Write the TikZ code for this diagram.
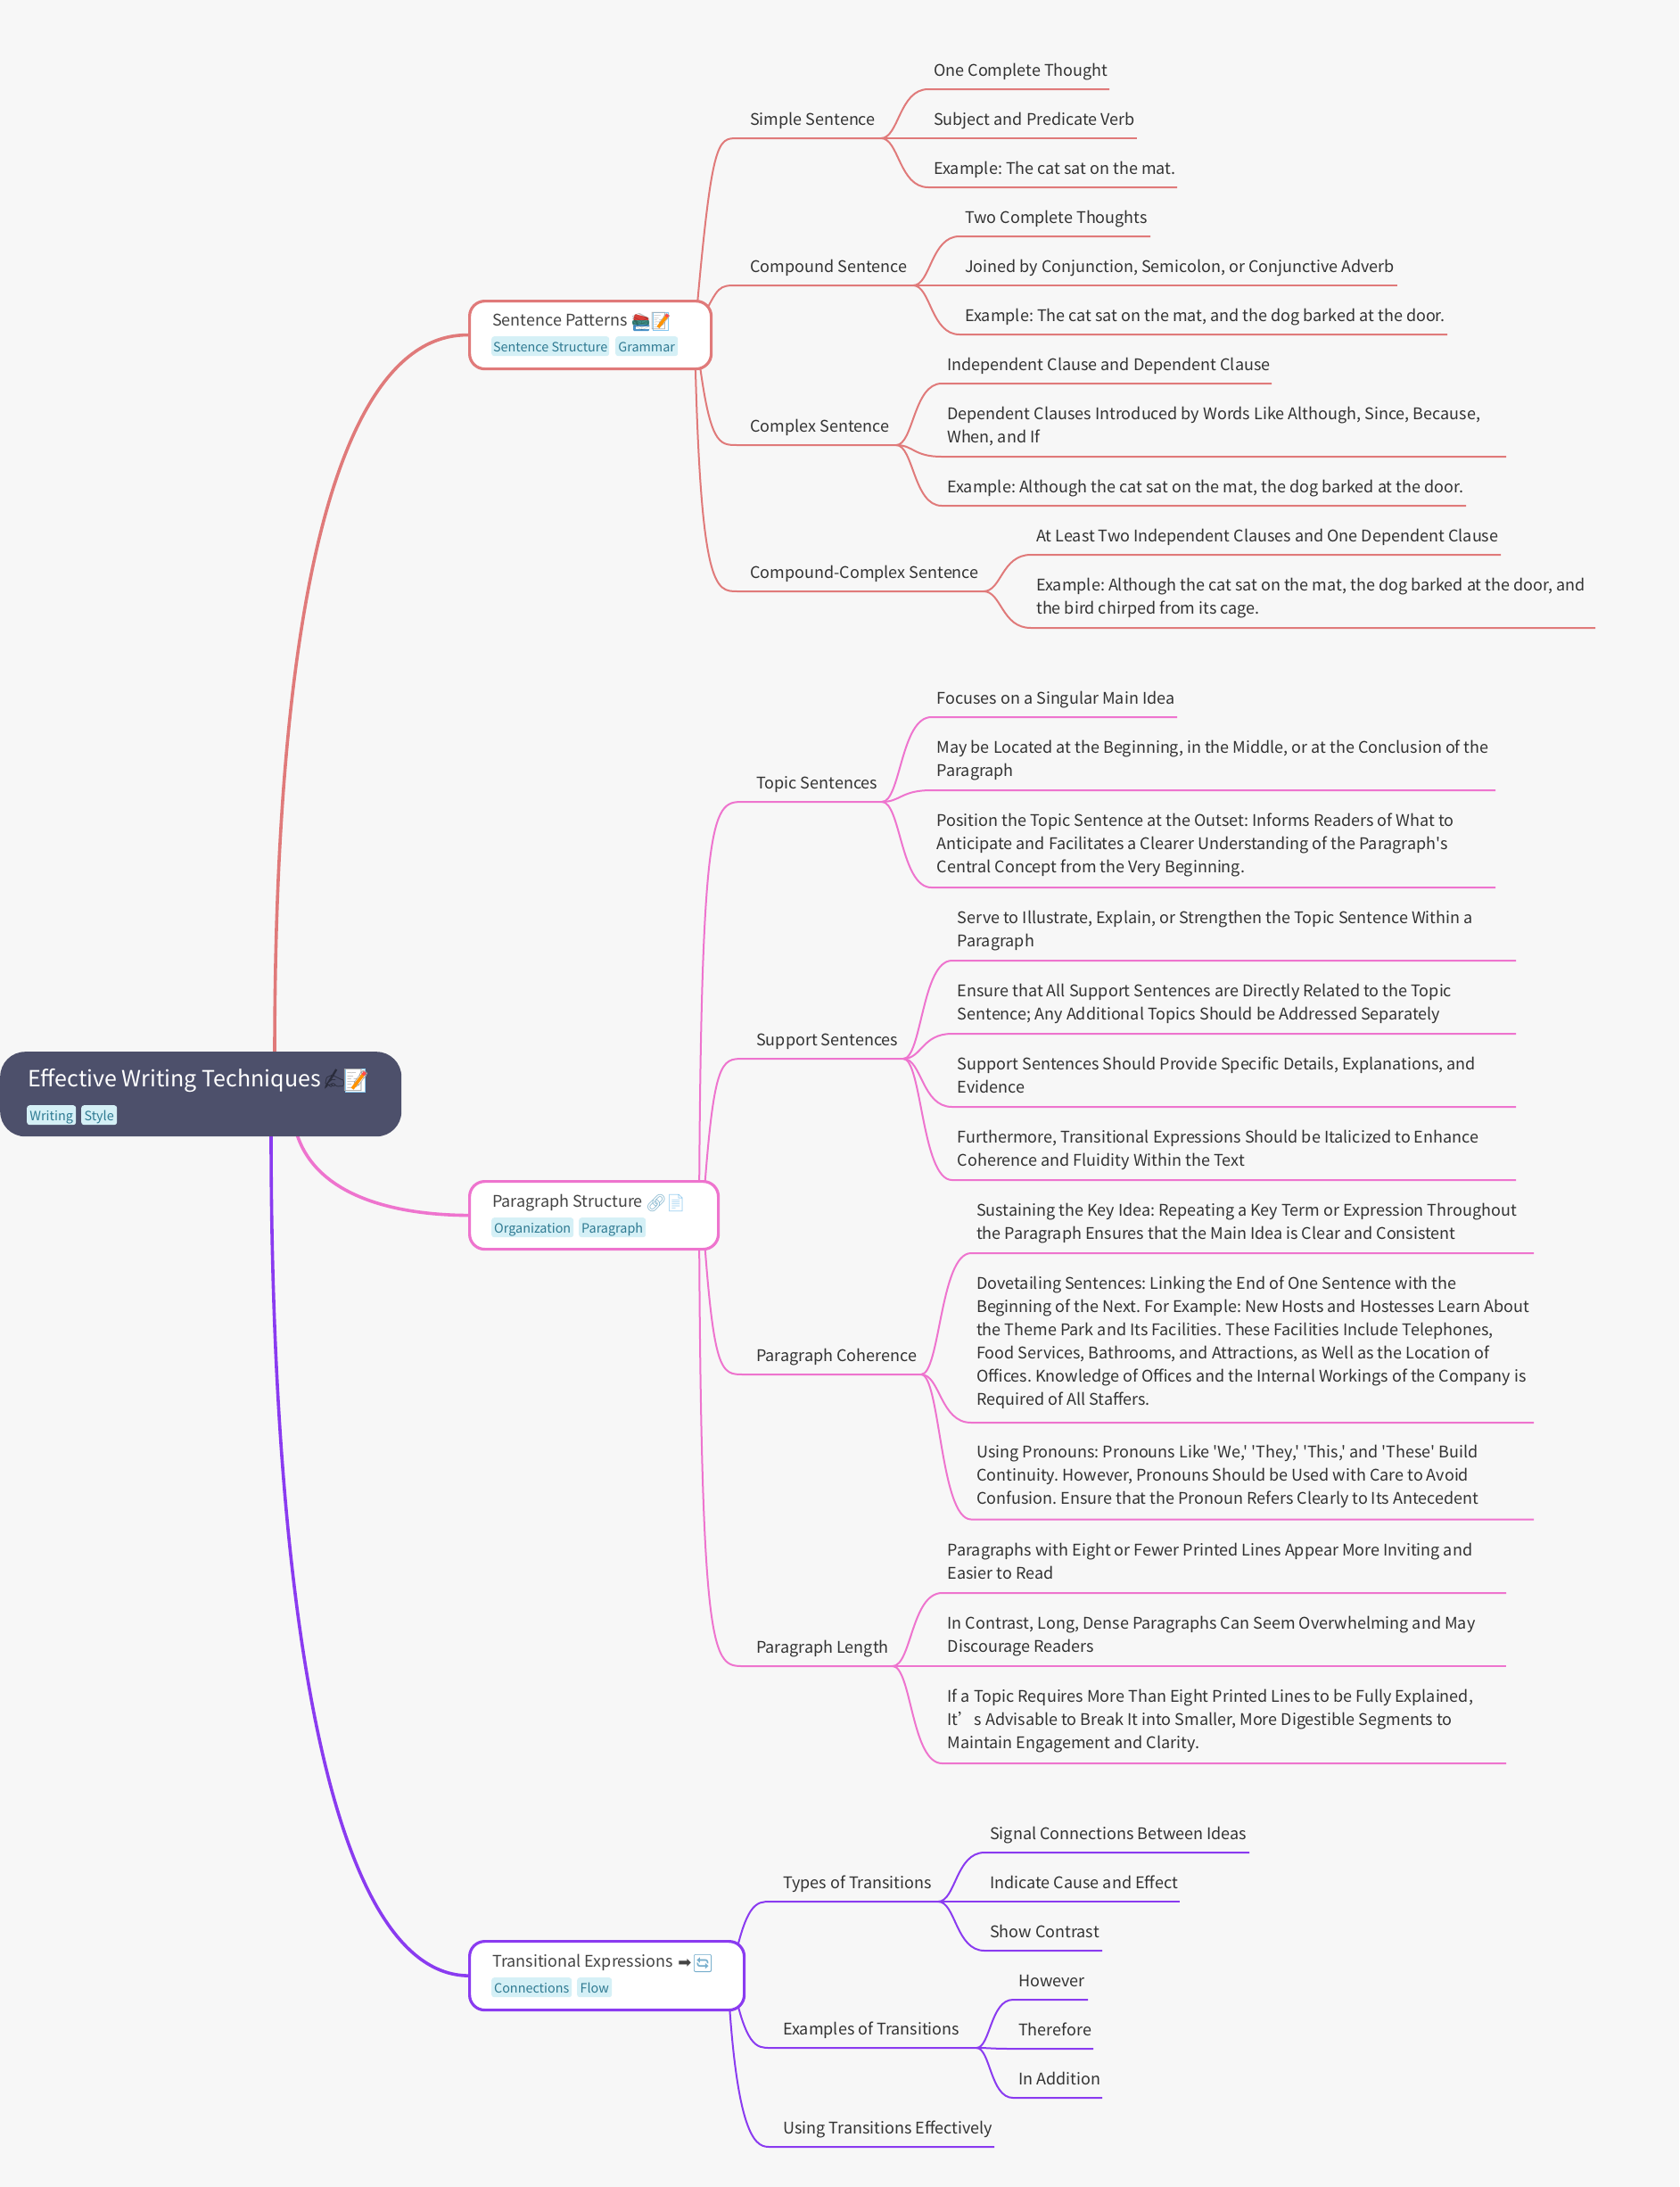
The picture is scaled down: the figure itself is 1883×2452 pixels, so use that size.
\documentclass[tikz,border=0pt]{standalone}
\usepackage{fontspec}
\usetikzlibrary{calc,backgrounds}
\setmainfont{Noto Sans CJK SC}
\newfontfamily\bodyf{Noto Sans CJK SC}
\newfontfamily\emof{Noto Emoji}
\newfontfamily\arrowf{DejaVu Sans}
\definecolor{bgc}{HTML}{F7F7F7}
\definecolor{rootc}{HTML}{4D506B}
\definecolor{sred}{HTML}{E07A7A}
\definecolor{spink}{HTML}{EE74CE}
\definecolor{spurp}{HTML}{8A3BF0}
\definecolor{tagf}{HTML}{D5F0F6}
\definecolor{tagt}{HTML}{2F7A92}
\definecolor{leaft}{HTML}{333333}
\definecolor{nodet}{HTML}{444444}
\definecolor{pageb}{HTML}{87C8F0}
\definecolor{bookr}{HTML}{D9403A}
\definecolor{bookg}{HTML}{3F8F86}
\definecolor{bookb}{HTML}{4A93C8}
\tikzset{
  x=1pt,y=-1pt,
  lftext/.style={anchor=south west,inner sep=0pt,text depth=5pt,align=left,text=leaft,
    font=\bodyf\frenchspacing\fontsize{18}{26}\selectfont},
  lk/.style={line width=2pt,draw=cur},
  mainc/.style={line width=3.6pt},
  box/.style={draw=cur,line width=3.2pt,fill=white,rounded corners=17pt,anchor=north west,inner sep=0pt},
  title/.style={anchor=base west,inner sep=0pt,text=nodet,font=\bodyf\frenchspacing\fontsize{18}{24}\selectfont},
  tagbox/.style={fill=tagf,rounded corners=3pt,anchor=north west,inner sep=0pt,text=tagt,
    minimum height=22pt,font=\bodyf\frenchspacing\fontsize{14.4}{18}\selectfont,text height=14.5pt,text depth=1pt},
  emo/.style={inner sep=0pt,font=\emof\fontsize{19}{20}\selectfont},
}
\newcommand\tagn[5]{\node[tagbox,minimum width=#4pt-#2pt] (#1) at (#2,#3) {#5};}
% parent row: name, start coord, ctrl1 x, ctrl2 x, text x, y, fork x, text
\newcommand\pr[8]{%
  \node[lftext] (#1) at (#5,#6-9.5) {#8};
  \coordinate (#1-a) at (#5-14,#6);
  \coordinate (#1-f) at (#7,#6);
  \begin{scope}[on background layer]
  \draw[lk] (#2) .. controls (#3,#6) and (#4,#6) .. (#1-a) -- (#1-f);
  \end{scope}
}
% leaf row: [extra gap], name, fork coordinate, text x, y, end x, text
\newcommand\lf[7][0]{%
  \node[lftext] (#2) at (#4,#5-9.5-#1) {#7};
  \coordinate (#2-a) at (#4-6,#5);
  \coordinate (#2-b) at (#6,#5);
  \coordinate (#2-m) at ($(#3)!.38!(#2-a)$);
  \draw[lk] (#3) .. controls (#2-m |- #3) and (#2-m |- #2-a) .. (#2-a) -- (#2-b);
}
\newcommand\memo[4][1]{%
  \begin{scope}[shift={(#3,#4)},scale=#1,transform shape]
    \fill[white,draw=pageb,line width=1pt] (-9,-10) rectangle (8,10);
    \node[emo,text=black!35] (#2) at (0,0) {📝};
    \draw[orange!85!yellow,line width=3.6pt] (-3,7) -- (7,-6);
    \draw[red!70,line width=3.6pt] (6,-4.7) -- (8,-7.3);
  \end{scope}
}
\begin{document}
\begin{tikzpicture}
\useasboundingbox (0,0) rectangle (1883,2452);
\begin{scope}[on background layer]
  \fill[bgc] (0,0) rectangle (1883,2452);
\end{scope}

% root
\node[fill=rootc,rounded corners=28pt,anchor=north west,minimum width=450pt,minimum height=95pt,inner sep=0pt] (root) at (0,1179) {};
\node[anchor=base west,inner sep=0pt,text=white,font=\bodyf\fontsize{25}{32}\selectfont] (roott) at (31,1218) {Effective Writing Techniques};
\node[emo,text=rootc!55!black,font=\emof\fontsize{22}{24}\selectfont] (roote1) at (375,1210) {✍};
\memo[1.3]{roote2}{399}{1211.5}
\tagn{tw}{30}{1239}{85}{Writing}
\tagn{ts}{91}{1239}{131}{Style}

% level-one boxes
\colorlet{cur}{sred}
\node[box,minimum width=271pt,minimum height=76pt] (sp) at (525,336) {};
\colorlet{cur}{spink}
\node[box,minimum width=279pt,minimum height=76pt] (ps) at (525,1323) {};
\colorlet{cur}{spurp}
\node[box,minimum width=308pt,minimum height=77pt] (te) at (525,2175) {};

\begin{scope}[on background layer]
  \coordinate (r1) at (308,1185);
  \coordinate (r2) at (330,1260);
  \coordinate (r3) at (304,1270);
  \draw[mainc,draw=sred] (r1) .. controls (308,600) and (400,374) .. (sp.west);
  \draw[mainc,draw=spink] (r2) .. controls (345,1335) and (430,1362) .. (ps.west);
  \draw[mainc,draw=spurp] (r3) .. controls (304,1780) and (365,2213) .. (te.west);
\end{scope}

% ---------- Sentence Patterns
\colorlet{cur}{sred}
\node[title] (spt) at (552,365) {Sentence Patterns};
\begin{scope}[shift={(719,361)}]
  \fill[bookr,rounded corners=1pt] (-7,-9) -- (8,-5) -- (8,-1) -- (-9,-2) -- cycle;
  \fill[bookg,rounded corners=1pt] (-10,-2) rectangle (9,3);
  \fill[bookb,rounded corners=1pt] (-9,3) rectangle (9,10);
  \fill[white] (-6,5) rectangle (9,7.5);
  \node[emo,text=black,opacity=.25] (spe) at (0,0) {📚};
\end{scope}
\memo{spe2}{741}{360}
\tagn{t1}{551}{377}{683}{Sentence Structure}
\tagn{t2}{690}{377}{760}{Grammar}
\coordinate (sp1) at (779,375);
\coordinate (sp2) at (786,360);
\coordinate (sp3) at (783,395);
\coordinate (sp4) at (779,375);
\pr{a}{sp1}{798}{804}{841}{155}{988}{Simple Sentence}
\lf{a1}{a-f}{1047}{100}{1244}{One Complete Thought}
\lf{a2}{a-f}{1047}{155}{1275}{Subject and Predicate Verb}
\lf{a3}{a-f}{1047}{210}{1320}{Example: The cat sat on the mat.}
\pr{b}{sp2}{806}{806}{841}{320}{1024}{Compound Sentence}
\lf{b1}{b-f}{1082}{265}{1290}{Two Complete Thoughts}
\lf{b2}{b-f}{1082}{320}{1567}{Joined by Conjunction, Semicolon, or Conjunctive Adverb}
\lf{b3}{b-f}{1082}{375}{1623}{Example: The cat sat on the mat, and the dog barked at the door.}
\pr{c}{sp3}{796}{806}{841}{499}{1005}{Complex Sentence}
\lf{c1}{c-f}{1062}{430}{1426}{Independent Clause and Dependent Clause}
\lf[1]{c2}{c-f}{1062}{512}{1689}{Dependent Clauses Introduced by Words Like Although, Since, Because,\\When, and If}
\lf{c3}{c-f}{1062}{567}{1644}{Example: Although the cat sat on the mat, the dog barked at the door.}
\pr{d}{sp4}{785}{802}{841}{663}{1103}{Compound-Complex Sentence}
\lf{d1}{d-f}{1162}{622}{1683}{At Least Two Independent Clauses and One Dependent Clause}
\lf[1]{d2}{d-f}{1162}{704}{1789}{Example: Although the cat sat on the mat, the dog barked at the door, and\\the bird chirped from its cage.}

% ---------- Paragraph Structure
\colorlet{cur}{spink}
\node[title] (pst) at (552,1353) {Paragraph Structure};
\node[emo,text={rgb,255:red,130;green,180;blue,205}] (pse1) at (736,1349) {🔗};
\node[emo,text={rgb,255:red,150;green,205;blue,240}] (pse2) at (758,1349) {📄};
\tagn{t3}{551}{1365}{643}{Organization}
\tagn{t4}{649}{1365}{724}{Paragraph}
\coordinate (ps1) at (784,1362);
\coordinate (ps2) at (788,1362);
\pr{e}{ps1}{786}{800}{848}{899}{989}{Topic Sentences}
\lf{e1}{e-f}{1050.5}{804}{1320}{Focuses on a Singular Main Idea}
\lf[1]{e2}{e-f}{1050.5}{886}{1677}{May be Located at the Beginning, in the Middle, or at the Conclusion of the\\Paragraph}
\lf[2]{e3}{e-f}{1050.5}{995}{1677}{Position the Topic Sentence at the Outset: Informs Readers of What to\\Anticipate and Facilitates a Clearer Understanding of the Paragraph's\\Central Concept from the Very Beginning.}
\pr{f}{ps2}{800}{808}{848}{1187}{1013}{Support Sentences}
\lf[1]{f1}{f-f}{1073.6}{1077}{1700}{Serve to Illustrate, Explain, or Strengthen the Topic Sentence Within a\\Paragraph}
\lf[1]{f2}{f-f}{1073.6}{1159}{1700}{Ensure that All Support Sentences are Directly Related to the Topic\\Sentence; Any Additional Topics Should be Addressed Separately}
\lf[1]{f3}{f-f}{1073.6}{1241}{1700}{Support Sentences Should Provide Specific Details, Explanations, and\\Evidence}
\lf[1]{f4}{f-f}{1073.6}{1323}{1700}{Furthermore, Transitional Expressions Should be Italicized to Enhance\\Coherence and Fluidity Within the Text}
\pr{g}{ps2}{800}{808}{848}{1541}{1033}{Paragraph Coherence}
\lf[1]{g1}{g-f}{1095}{1405}{1720}{Sustaining the Key Idea: Repeating a Key Term or Expression Throughout\\the Paragraph Ensures that the Main Idea is Clear and Consistent}
\lf[5]{g2}{g-f}{1095}{1595}{1720}{Dovetailing Sentences: Linking the End of One Sentence with the\\Beginning of the Next. For Example: New Hosts and Hostesses Learn About\\the Theme Park and Its Facilities. These Facilities Include Telephones,\\Food Services, Bathrooms, and Attractions, as Well as the Location of\\Offices. Knowledge of Offices and the Internal Workings of the Company is\\Required of All Staffers.}
\lf[2]{g3}{g-f}{1095}{1703.5}{1720}{Using Pronouns: Pronouns Like 'We,' 'They,' 'This,' and 'These' Build\\Continuity. However, Pronouns Should be Used with Care to Avoid\\Confusion. Ensure that the Pronoun Refers Clearly to Its Antecedent}
\pr{h}{ps1}{786}{800}{848}{1868}{1001}{Paragraph Length}
\lf[1]{h1}{h-f}{1062.5}{1786}{1689}{Paragraphs with Eight or Fewer Printed Lines Appear More Inviting and\\Easier to Read}
\lf[1]{h2}{h-f}{1062.5}{1868}{1689}{In Contrast, Long, Dense Paragraphs Can Seem Overwhelming and May\\Discourage Readers}
\lf[2]{h3}{h-f}{1062.5}{1977}{1689}{If a Topic Requires More Than Eight Printed Lines to be Fully Explained,\\It’s Advisable to Break It into Smaller, More Digestible Segments to\\Maintain Engagement and Clarity.}

% ---------- Transitional Expressions
\colorlet{cur}{spurp}
\node[title] (tet) at (552,2205) {Transitional Expressions};
\node[inner sep=0pt,text=nodet,font=\arrowf\fontsize{18}{20}\selectfont] (tee1) at (768,2201) {➡};
\node[fill={rgb,255:red,120;green,175;blue,205},rounded corners=2pt,minimum size=20pt,inner sep=0pt] (tee0) at (788,2201) {};
\node[emo,text=white,font=\emof\fontsize{18}{20}\selectfont] (tee2) at (788,2201) {🔄};
\tagn{t5}{551}{2217}{641}{Connections}
\tagn{t6}{647}{2217}{686}{Flow}
\coordinate (te1) at (820,2215);
\coordinate (te2) at (816,2215);
\pr{i}{te1}{836}{848}{878}{2132}{1052}{Types of Transitions}
\lf{i1}{i-f}{1110}{2077}{1401}{Signal Connections Between Ideas}
\lf{i2}{i-f}{1110}{2132}{1323}{Indicate Cause and Effect}
\lf{i3}{i-f}{1110}{2187}{1236}{Show Contrast}
\pr{j}{te1}{836}{848}{878}{2296}{1095}{Examples of Transitions}
\lf{j1}{j-f}{1142}{2242}{1220}{However}
\lf{j2}{j-f}{1142}{2297}{1226}{Therefore}
\lf{j3}{j-f}{1142}{2352}{1236}{In Addition}
\pr{k}{te2}{826}{850}{878}{2407}{1115}{Using Transitions Effectively}
\end{tikzpicture}
\end{document}
